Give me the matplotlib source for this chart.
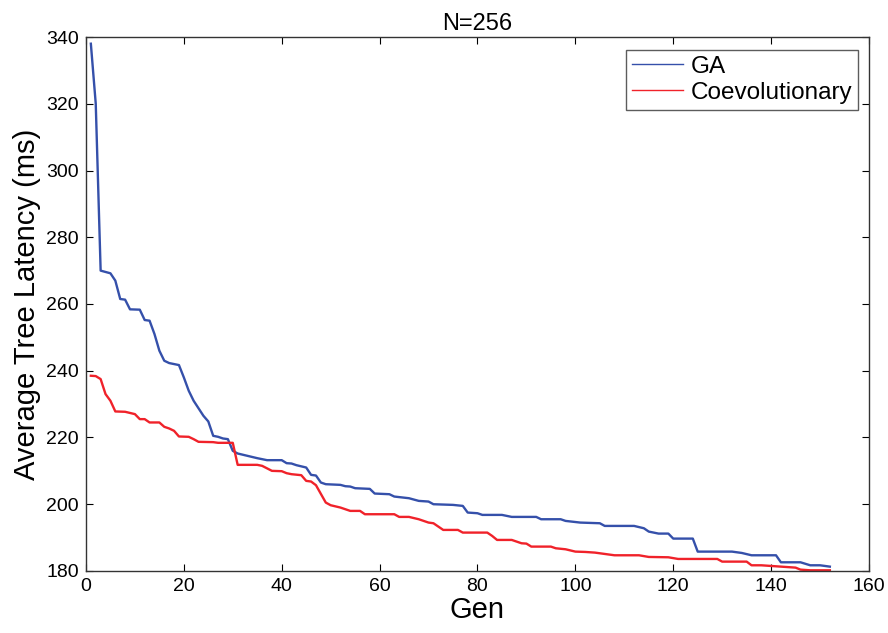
import matplotlib
matplotlib.use("Agg")
import matplotlib.pyplot as plt

# GA series (generation, average tree latency in ms)
ga_gen = [1, 2, 3, 5, 6, 7, 8, 9, 11, 12, 13, 14, 15, 16, 17, 19, 20, 21, 22, 24,
          25, 26, 27, 28, 29, 30, 31, 33, 35, 37, 40, 41, 42, 43, 45, 46, 47, 48, 49,
          52, 53, 54, 55, 58, 59, 62, 63, 66, 68, 70, 71, 75, 77, 78, 80, 81, 85, 87,
          92, 93, 97, 98, 101, 105, 106, 112, 114, 115, 117, 119, 120, 124, 125, 132,
          134, 136, 141, 142, 146, 148, 150, 152]
ga_val = [338, 320, 270, 269.2, 267, 261.5, 261.3, 258.4, 258.3, 255.2, 255, 251, 246,
          243, 242.3, 241.7, 238, 234, 231, 226.5, 224.8, 220.5, 220.2, 219.7, 219.5,
          216, 215.2, 214.5, 213.8, 213.2, 213.2, 212.3, 212.2, 211.7, 211, 208.8,
          208.6, 206.5, 206, 205.8, 205.4, 205.3, 204.8, 204.6, 203.2, 203, 202.3,
          201.8, 201, 200.8, 200, 199.8, 199.5, 197.5, 197.3, 196.8, 196.8, 196.2,
          196.2, 195.5, 195.5, 195, 194.5, 194.3, 193.5, 193.5, 192.8, 191.8, 191.2,
          191.2, 189.7, 189.7, 185.8, 185.8, 185.4, 184.7, 184.7, 182.6, 182.6, 181.7,
          181.7, 181.3]

# Coevolutionary series
co_gen = [1, 2, 3, 4, 5, 6, 8, 10, 11, 12, 13, 15, 16, 17, 18, 19, 21, 22, 23, 26,
          27, 30, 31, 35, 36, 38, 40, 41, 42, 44, 45, 46, 47, 49, 50, 52, 54, 56, 57,
          63, 64, 66, 68, 70, 71, 73, 76, 77, 82, 83, 84, 87, 89, 90, 91, 95, 96, 98,
          100, 102, 104, 106, 108, 113, 115, 119, 121, 129, 130, 135, 136, 138, 143,
          145, 146, 148, 152]
co_val = [238.5, 238.4, 237.5, 233, 231, 227.8, 227.7, 227, 225.5, 225.5, 224.5, 224.5,
          223.2, 222.7, 222, 220.3, 220.2, 219.5, 218.7, 218.6, 218.4, 218.4, 211.8,
          211.8, 211.5, 210, 209.9, 209.3, 209, 208.7, 207, 206.8, 205.7, 200.5, 199.7,
          199, 198, 198, 197, 197, 196.2, 196.2, 195.5, 194.5, 194.3, 192.3, 192.3,
          191.5, 191.5, 190.5, 189.3, 189.3, 188.3, 188.2, 187.3, 187.3, 186.8, 186.5,
          185.8, 185.7, 185.5, 185.1, 184.7, 184.7, 184.2, 184.1, 183.6, 183.6, 182.8,
          182.8, 181.7, 181.7, 181.2, 181.0, 180.4, 180.2, 180.2]

x_ticks = [0, 20, 40, 60, 80, 100, 120, 140, 160]
y_ticks = [180, 200, 220, 240, 260, 280, 300, 320, 340]

plt.rcParams['font.family'] = ['Liberation Sans', 'DejaVu Sans']

fig = plt.figure(figsize=(8.88, 6.33), dpi=100)
ax = fig.add_axes([0.0968, 0.098, 0.8818, 0.8435])

ga_color = '#3550AA'
co_color = '#F0222A'
ax.plot(ga_gen, ga_val, color=ga_color, linewidth=1.7, label='GA')
ax.plot(co_gen, co_val, color=co_color, linewidth=1.7, label='Coevolutionary')

ax.set_xlim(0, 160)
ax.set_ylim(180, 340)
ax.set_xticks(x_ticks)
ax.set_yticks(y_ticks)
ax.tick_params(direction='in', top=True, right=True, length=5, width=0.8,
               labelsize=14, pad=5, colors='black')
for s in ax.spines.values():
    s.set_linewidth(1.0)
    s.set_color('#333333')

ax.set_xlabel('Gen', fontsize=21, labelpad=1)
ax.set_ylabel('Average Tree Latency (ms)', fontsize=21, labelpad=4)
ax.set_title('N=256', fontsize=17, pad=5)

leg = ax.legend(loc='upper right', bbox_to_anchor=(0.9865, 0.976), fontsize=17.5,
                frameon=True, fancybox=False, handlelength=2.1, handletextpad=0.3,
                borderpad=0.25, labelspacing=0.15, borderaxespad=0)
leg.get_frame().set_edgecolor('#333333')
leg.get_frame().set_linewidth(1.0)
for line in leg.get_lines():
    line.set_linewidth(1.0)

fig.savefig('out.png', dpi=100)
